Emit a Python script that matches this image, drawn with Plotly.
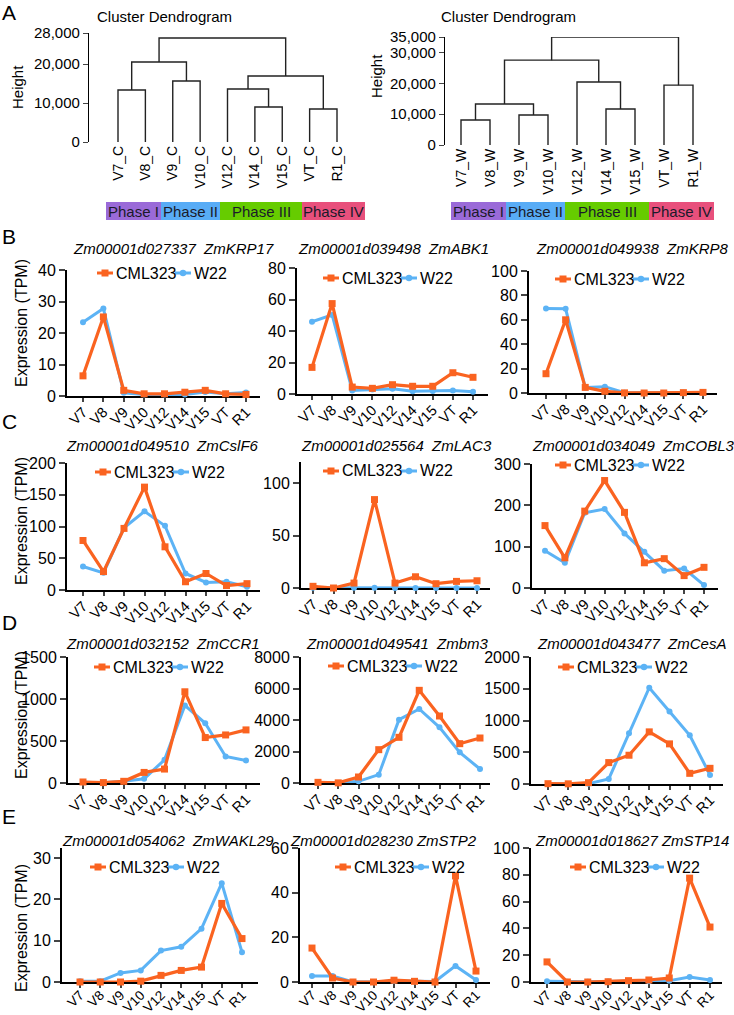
import plotly.graph_objects as go

W, H = 734, 1015
FONT = 'Liberation Sans, Arial, sans-serif'
ORANGE = '#fa6320'
BLUE = '#5cb3f5'

# 發育階段
stages = ['V7', 'V8', 'V9', 'V10', 'V12', 'V14', 'V15', 'VT', 'R1']
lines = ['CML323', 'W22']

# 基因 (標題)
gene_ids = ['Zm00001d027337', 'Zm00001d039498', 'Zm00001d049938',
            'Zm00001d049510', 'Zm00001d025564', 'Zm00001d034049',
            'Zm00001d032152', 'Zm00001d049541', 'Zm00001d043477',
            'Zm00001d054062', 'Zm00001d028230', 'Zm00001d018627']
gene_names = ['ZmKRP17', 'ZmABK1', 'ZmKRP8', 'ZmCslF6', 'ZmLAC3', 'ZmCOBL3',
              'ZmCCR1', 'Zmbm3', 'ZmCesA', 'ZmWAKL29', 'ZmSTP2', 'ZmSTP14']
gene_titles = [f'{a}  {b}' for a, b in zip(gene_ids[:10], gene_names[:10])] + \
              [f'{a} {b}' for a, b in zip(gene_ids[10:], gene_names[10:])]

# 表達量 (TPM)
krp17_cml = [6.4, 25.1, 1.8, 0.7, 0.7, 1.2, 1.8, 0.7, 0.5]
krp17_w22 = [23.4, 27.8, 1.0, 0.5, 0.5, 0.5, 1.3, 0.7, 1.1]
abk1_cml = [16.9, 57.4, 4.4, 3.6, 5.9, 4.9, 4.9, 13.5, 10.6]
abk1_w22 = [45.9, 50.2, 2.3, 2.8, 3.4, 1.7, 1.9, 2.3, 1.5]
krp8_cml = [15.8, 60.0, 4.6, 1.4, 0.1, 0.0, 0.0, 0.3, 0.5]
krp8_w22 = [69.2, 69.0, 4.6, 5.2, 0.3, 0.1, 0.1, 0.2, 0.5]
cslf6_cml = [78, 29, 97, 162, 68, 13, 26, 7, 10]
cslf6_w22 = [37, 27, 98, 124, 101, 26, 12, 13, 5]
lac3_cml = [1.6, 0.0, 4.7, 84.2, 4.7, 10.7, 4.1, 6.3, 6.9]
lac3_w22 = [0.2, 0.1, 0.2, 0.2, 0.1, 0.1, 0.1, 0.1, 0.1]
cobl3_cml = [151, 73, 186, 260, 183, 61, 71, 30, 50]
cobl3_w22 = [90, 61, 182, 191, 132, 88, 42, 47, 7]
ccr1_cml = [12, 5, 20, 126, 166, 1086, 541, 572, 632]
ccr1_w22 = [8, 3, 20, 51, 276, 924, 711, 316, 268]
bm3_cml = [42, 10, 381, 2116, 2900, 5884, 4254, 2497, 2857]
bm3_w22 = [10, 5, 106, 529, 4021, 4698, 3534, 1947, 889]
cesa_cml = [5, 3, 21, 337, 453, 821, 632, 168, 247]
cesa_w22 = [0, 0, 5, 79, 800, 1516, 1142, 768, 142]
wakl29_cml = [0.0, 0.0, 0.0, 0.2, 1.6, 2.8, 3.6, 19.0, 10.5]
wakl29_w22 = [0.2, 0.2, 2.2, 2.8, 7.6, 8.5, 12.9, 23.9, 7.2]
stp2_cml = [15.2, 1.8, 0.0, 0.0, 0.8, 0.3, 0.0, 47.5, 4.9]
stp2_w22 = [2.7, 2.7, 0.0, 0.0, 0.4, 0.2, 0.2, 7.2, 0.9]
stp14_cml = [15.0, 0.0, 0.0, 0.2, 1.0, 1.5, 3.0, 77.5, 41.0]
stp14_w22 = [0.5, 0.2, 0.2, 0.3, 0.5, 0.5, 1.0, 3.7, 1.5]

cml_series = [krp17_cml, abk1_cml, krp8_cml, cslf6_cml, lac3_cml, cobl3_cml,
              ccr1_cml, bm3_cml, cesa_cml, wakl29_cml, stp2_cml, stp14_cml]
w22_series = [krp17_w22, abk1_w22, krp8_w22, cslf6_w22, lac3_w22, cobl3_w22,
              ccr1_w22, bm3_w22, cesa_w22, wakl29_w22, stp2_w22, stp14_w22]

# 聚類樹 (merge: 左, 右, 高度; 索引 >= 9 為先前合併的群)
leaves_c = ['V7_C', 'V8_C', 'V9_C', 'V10_C', 'V12_C', 'V14_C', 'V15_C', 'VT_C', 'R1_C']
merges_c = [(0, 1, 13360), (2, 3, 15670), (9, 10, 20550), (5, 6, 8990),
            (4, 12, 13600), (7, 8, 8480), (13, 14, 16950), (11, 15, 26700)]
ticks_c = [0, 10000, 20000, 28000]

leaves_w = ['V7_W', 'V8_W', 'V9_W', 'V10_W', 'V12_W', 'V14_W', 'V15_W', 'VT_W', 'R1_W']
merges_w = [(0, 1, 8090), (2, 3, 9700), (9, 10, 13270), (5, 6, 11650),
            (4, 12, 20400), (11, 13, 27500), (7, 8, 19400), (14, 15, 34950)]
ticks_w = [0, 10000, 20000, 30000, 35000]

phases = ['Phase I', 'Phase II', 'Phase III', 'Phase IV']
phase_colors = ['#9a6ad8', '#58acf6', '#66cc00', '#e8507c']

# ---- 版面 (像素) ----
# 聚類樹: 軸x, 葉首x, 葉末x, y0, ytop, ymax, 右邊界
dendro_geom = [(89, 118, 337, 142, 33, 28000, 365),
               (445, 461, 693, 145, 37, 35000, 720)]
phase_edges = [[106, 161, 220, 302, 365], [451, 506, 565, 649, 714]]
phase_y = (202, 220)

# 折線圖: x0, x1, V7 x, R1 x, y(0), y(top), ymax, dtick
panel_geom = [
    (67, 260, 83, 246, 396, 270, 40, 10),
    (297, 488, 312, 473, 394, 268, 80, 20),
    (529, 717, 546, 703, 393, 271, 100, 20),
    (67, 260, 83, 247, 590, 463, 200, 50),
    (301, 490, 313, 477, 588, 462, 120, 50),
    (532, 718, 545, 704, 588, 464, 300, 100),
    (68, 260, 83, 246, 783, 657, 1500, 500),
    (301, 490, 318, 480, 783, 657, 8000, 2000),
    (531, 723, 548, 710, 784, 657, 2000, 500),
    (62, 258, 80, 242, 982, 848, 32.4, 10),
    (300, 490, 312, 476, 982, 848, 60, 20),
    (531, 722, 547, 710, 982, 848, 100, 20),
]
title_pos = [(173, 248), (393, 248), (632, 248),
             (162, 445), (396, 445), (633, 445),
             (163, 643), (397, 643), (631, 643),
             (168, 840), (384, 840), (632, 840)]
# 圖例左緣 / 中線
legend_pos = [(97, 273), (323, 278), (555, 279),
              (95, 472), (323, 471), (555, 465),
              (94, 667), (328, 666), (558, 667),
              (90, 867), (335, 867), (570, 867)]
ytitle_y = [323, 521, 715, 928]
letters = [('A', 9, 12), ('B', 9, 237), ('C', 9, 421), ('D', 9, 622), ('E', 9, 816)]


def px(p):
    return p / W


def py(p):
    return 1 - p / H


def txt(text, x, y, size, angle=0, anchor='center', color='black'):
    return dict(text=text, x=px(x), y=py(y), xref='paper', yref='paper',
                xanchor=anchor, yanchor='middle', textangle=angle,
                showarrow=False, font=dict(size=size, color=color))


def dendro_lines(n, merges):
    pos = {i: (i, 0.0) for i in range(n)}
    xs, ys = [], []
    for k, (a, b, h) in enumerate(merges):
        xa, ha = pos[a]
        xb, hb = pos[b]
        xs += [xa, xa, xb, xb, None]
        ys += [ha, h, h, hb, None]
        pos[n + k] = ((xa + xb) / 2, h)
    return xs, ys


fig = go.Figure()
layout = dict(width=W, height=H,
              margin=dict(l=0, r=0, t=0, b=0, pad=0, autoexpand=False),
              plot_bgcolor='white', paper_bgcolor='white',
              font=dict(family=FONT, color='black'), showlegend=False)
annotations = []
shapes = []

# ---- A: 聚類樹 ----
for k, (leaves, merges, tv) in enumerate([(leaves_c, merges_c, ticks_c),
                                          (leaves_w, merges_w, ticks_w)]):
    ax0, l0, l1, y0, yt, ymax, xr = dendro_geom[k]
    sp = (l1 - l0) / (len(leaves) - 1)
    xs, ys = dendro_lines(len(leaves), merges)
    n = k + 1
    fig.add_trace(go.Scatter(x=xs, y=ys, mode='lines',
                             line=dict(color='#222222', width=1.4),
                             xaxis=f'x{n}', yaxis=f'y{n}', hoverinfo='skip'))
    layout[f'xaxis{n}'] = dict(domain=[px(ax0), px(xr)],
                               range=[(ax0 - l0) / sp, (xr - l0) / sp],
                               anchor=f'y{n}', showline=False, showgrid=False,
                               zeroline=False, tickmode='array', automargin=False,
                               tickvals=list(range(len(leaves))), ticktext=leaves,
                               tickangle=-90, ticks='', tickfont=dict(size=14))
    layout[f'yaxis{n}'] = dict(domain=[py(y0), py(yt)], range=[0, ymax],
                               anchor=f'x{n}', showline=True, linecolor='black',
                               linewidth=1.2, ticks='outside', ticklen=5,
                               tickwidth=1.2, tickmode='array', tickvals=tv,
                               tickformat=',', showgrid=False, zeroline=False,
                               automargin=False, tickfont=dict(size=15))
    annotations.append(txt('Cluster Dendrogram', [95, 439][k], 16, 15, anchor='left'))
    annotations.append(txt('Height', [17, 377][k], [87, 76][k], 15, angle=-90))
    edges = phase_edges[k]
    for j, ph in enumerate(phases):
        shapes.append(dict(type='rect', xref='paper', yref='paper',
                           x0=px(edges[j]), x1=px(edges[j + 1]),
                           y0=py(phase_y[1]), y1=py(phase_y[0]),
                           fillcolor=phase_colors[j], line=dict(width=0)))
        annotations.append(txt(ph, (edges[j] + edges[j + 1]) / 2, sum(phase_y) / 2,
                               15, color='#1a1a2a'))

# ---- B-E: 表達量折線圖 ----
for i in range(12):
    x0, x1, v7, r1, y0, yt, ymax, dt = panel_geom[i]
    sp = (r1 - v7) / (len(stages) - 1)
    n = i + 3
    last_row = i >= 9
    fig.add_trace(go.Scatter(x=stages, y=w22_series[i], name=lines[1],
                             mode='lines+markers', line=dict(color=BLUE, width=3),
                             marker=dict(symbol='circle', size=6, color=BLUE),
                             cliponaxis=False, xaxis=f'x{n}', yaxis=f'y{n}'))
    fig.add_trace(go.Scatter(x=stages, y=cml_series[i], name=lines[0],
                             mode='lines+markers', line=dict(color=ORANGE, width=3.2),
                             marker=dict(symbol='square', size=7, color=ORANGE),
                             cliponaxis=False, xaxis=f'x{n}', yaxis=f'y{n}'))
    layout[f'xaxis{n}'] = dict(domain=[px(x0), px(x1)], anchor=f'y{n}',
                               type='category', categoryarray=stages,
                               range=[(x0 - v7) / sp, (x1 - v7) / sp],
                               tickmode='array', tickvals=stages, ticktext=stages,
                               tickangle=-45, ticks='outside', ticklen=4, tickwidth=2,
                               ticklabelstandoff=-6 if last_row else -4,
                               showline=True, linecolor='black', linewidth=2,
                               showgrid=False, zeroline=False, layer='below traces',
                               automargin=False,
                               tickfont=dict(size=13.5 if last_row else 14.5))
    layout[f'yaxis{n}'] = dict(domain=[py(y0), py(yt)], anchor=f'x{n}',
                               range=[0, ymax], tick0=0, dtick=dt,
                               ticks='outside', ticklen=6, tickwidth=2,
                               showline=True, linecolor='black', linewidth=2,
                               showgrid=False, zeroline=False, layer='below traces',
                               automargin=False, tickfont=dict(size=16))
    # 圖例 (線段 + 標記 + 文字)
    lx, ly = legend_pos[i]
    for (off, col, sym, name) in [(0, ORANGE, 'rect', lines[0]),
                                  (78, BLUE, 'circle', lines[1])]:
        a = lx + off
        shapes.append(dict(type='line', xref='paper', yref='paper',
                           x0=px(a), x1=px(a + 16), y0=py(ly), y1=py(ly),
                           line=dict(color=col, width=3)))
        r = 3.5 if sym == 'rect' else 3.2
        shapes.append(dict(type=sym, xref='paper', yref='paper',
                           x0=px(a + 8 - r), x1=px(a + 8 + r),
                           y0=py(ly + r), y1=py(ly - r),
                           fillcolor=col, line=dict(width=0)))
        annotations.append(txt(name, a + 17, ly, 16, anchor='left'))
    tx, ty = title_pos[i]
    annotations.append(txt(f'<i>{gene_titles[i]}</i>', tx, ty, 15))

for yy in ytitle_y:
    annotations.append(txt('Expression (TPM)', 21, yy, 16, angle=-90))

for t, lx, ly in letters:
    annotations.append(txt(t, lx, ly, 21))

layout['annotations'] = annotations
layout['shapes'] = shapes
fig.update_layout(**layout)

fig.write_html("out.html", config={'displayModeBar': False},
               post_script="document.body.style.margin='0';")
